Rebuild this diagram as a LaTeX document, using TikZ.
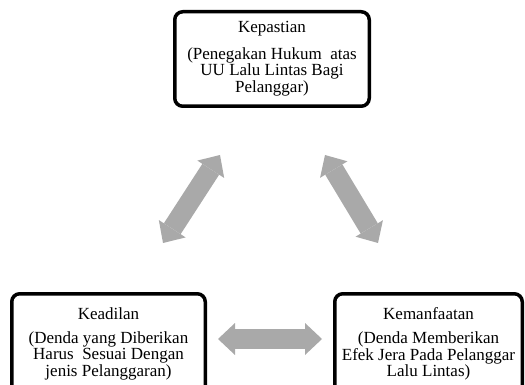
\documentclass[tikz,border=0pt]{standalone}
\usepackage{fontspec}
\setmainfont{Liberation Serif}
\usetikzlibrary{arrows.meta}
\definecolor{arrowgray}{RGB}{169,169,169}
\begin{document}
\begin{tikzpicture}[x=1pt,y=-1pt,
  box/.style={draw=black, line width=3.5pt, rounded corners=8pt, align=center, inner sep=0pt, font=\fontsize{17}{16.8}\selectfont},
  bigarrow/.style={draw=arrowgray, line width=20pt, {Triangle[width=32pt,length=17pt,line width=0pt]}-{Triangle[width=32pt,length=17pt,line width=0pt]}}]
\useasboundingbox (0,0) rectangle (525,385);
\clip (0,0) rectangle (525,385);
\node[box, minimum width=194.5pt, minimum height=94.5pt] (kep) at (272,59)
  {Kepastian\\[9.5pt](Penegakan Hukum\ \ atas\\UU Lalu Lintas Bagi\\Pelanggar)};
\node[box, minimum width=193.5pt, minimum height=100.5pt] (kea) at (108.5,344)
  {Keadilan\\[7pt](Denda yang Diberikan\\Harus\ \ Sesuai Dengan\\jenis Pelanggaran)};
\node[box, minimum width=187.5pt, minimum height=100.5pt] (kem) at (428.5,344)
  {Kemanfaatan\\[7pt](Denda Memberikan\\Efek Jera Pada Pelanggar\\Lalu Lintas)};
\coordinate (a1) at (163,243);
\coordinate (a2) at (220,155);
\coordinate (b1) at (325,155);
\coordinate (b2) at (378,243);
\coordinate (c1) at (218,339);
\coordinate (c2) at (322,339);
\draw[bigarrow] (a1) -- (a2);
\draw[bigarrow] (b1) -- (b2);
\draw[bigarrow] (c1) -- (c2);
\end{tikzpicture}
\end{document}
